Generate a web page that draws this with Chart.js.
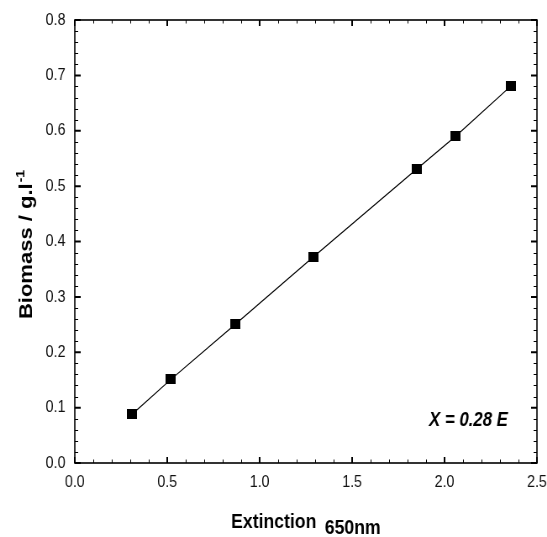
<!DOCTYPE html>
<html>
<head>
<meta charset="utf-8">
<script src="https://cdn.jsdelivr.net/npm/chart.js@4"></script>
<style>
  html, body { margin: 0; padding: 0; background: #fff; overflow: hidden; }
  /* the original figure is squeezed horizontally, so draw wide and condense */
  #wrap { width: 651px; height: 537px; transform: scaleX(0.8403); transform-origin: 0 0; }
</style>
</head>
<body>
<div id="wrap"><canvas id="myChart" width="651" height="537"></canvas></div>
<script>
// Calibration points: extinction at 650nm vs biomass (g/l)
const extinction = [0.31, 0.52, 0.87, 1.29, 1.85, 2.06, 2.36];
const biomass = [0.088, 0.151, 0.251, 0.372, 0.531, 0.590, 0.681];

const xTicks = [0.0, 0.5, 1.0, 1.5, 2.0, 2.5];
const yTicks = [0.0, 0.1, 0.2, 0.3, 0.4, 0.5, 0.6, 0.7, 0.8];
const fitLabel = 'X = 0.28 E';

// square marker, drawn wider so it comes out square after the condense
const marker = document.createElement('canvas');
marker.width = 12;
marker.height = 10;
const mctx = marker.getContext('2d');
mctx.fillStyle = '#000';
mctx.fillRect(0, 0, 12, 10);

// inward ticks on all four sides, the box, titles and the fit label
const decorations = {
    id: 'decorations',
    beforeDatasetsDraw(chart) {
        const { ctx, chartArea: a, scales: { x, y } } = chart;
        ctx.save();
        ctx.strokeStyle = '#000';

        // minor ticks
        ctx.lineWidth = 1;
        ctx.beginPath();
        for (let i = 1; i < 25; i++) {
            if (i % 5 === 0) continue;
            const px = Math.round(x.getPixelForValue(i / 10)) + 0.5;
            ctx.moveTo(px, a.bottom); ctx.lineTo(px, a.bottom - 3.5);
            ctx.moveTo(px, a.top); ctx.lineTo(px, a.top + 3.5);
        }
        for (let i = 1; i < 40; i++) {
            if (i % 5 === 0) continue;
            const py = Math.round(y.getPixelForValue(i / 50)) + 0.5;
            ctx.moveTo(a.left, py); ctx.lineTo(a.left + 4, py);
            ctx.moveTo(a.right, py); ctx.lineTo(a.right - 4, py);
        }
        ctx.stroke();

        // major ticks
        ctx.lineWidth = 2;
        ctx.beginPath();
        xTicks.forEach(v => {
            const px = x.getPixelForValue(v);
            ctx.moveTo(px, a.bottom); ctx.lineTo(px, a.bottom - 6);
            ctx.moveTo(px, a.top); ctx.lineTo(px, a.top + 6);
        });
        yTicks.forEach(v => {
            const py = y.getPixelForValue(v);
            ctx.moveTo(a.left, py); ctx.lineTo(a.left + 7, py);
            ctx.moveTo(a.right, py); ctx.lineTo(a.right - 7, py);
        });
        ctx.stroke();

        // frame
        ctx.lineWidth = 1.6;
        ctx.strokeRect(a.left, a.top, a.width, a.height);
        ctx.restore();
    },
    afterDraw(chart) {
        const { ctx, chartArea: a, scales: { x, y } } = chart;
        ctx.save();
        ctx.fillStyle = '#000';
        ctx.textBaseline = 'alphabetic';
        ctx.textAlign = 'left';

        // x title with subscript
        ctx.font = 'bold 21px "Liberation Sans", Arial, sans-serif';
        const w1 = ctx.measureText('Extinction').width;
        const w2 = ctx.measureText('650nm').width;
        const gap = 10;
        const x0 = (a.left + a.right) / 2 - (w1 + gap + w2) / 2;
        ctx.fillText('Extinction', x0, 527.5);
        ctx.fillText('650nm', x0 + w1 + gap, 534);

        // y title with superscript
        ctx.save();
        ctx.translate(37.5, 245);
        ctx.rotate(-Math.PI / 2);
        ctx.font = 'bold 22px "Liberation Sans", Arial, sans-serif';
        const t1 = 'Biomass / g.l';
        const tw1 = ctx.measureText(t1).width;
        ctx.font = 'bold 14px "Liberation Sans", Arial, sans-serif';
        const tw2 = ctx.measureText('-1').width;
        const s = -(tw1 + tw2) / 2;
        ctx.font = 'bold 22px "Liberation Sans", Arial, sans-serif';
        ctx.fillText(t1, s, 0);
        ctx.font = 'bold 14px "Liberation Sans", Arial, sans-serif';
        ctx.fillText('-1', s + tw1 + 1, -9);
        ctx.restore();

        // fit label
        ctx.font = 'italic bold 20px "Liberation Sans", Arial, sans-serif';
        ctx.textAlign = 'right';
        ctx.fillText(fitLabel, x.getPixelForValue(2.343), y.getPixelForValue(0.067));
        ctx.restore();
    }
};

const ctx = document.getElementById('myChart').getContext('2d');
new Chart(ctx, {
    type: 'scatter',
    data: {
        datasets: [{
            label: 'Biomass',
            data: extinction.map((e, i) => ({ x: e, y: biomass[i] })),
            showLine: true,
            borderColor: '#000',
            borderWidth: 1.2,
            backgroundColor: '#000',
            pointStyle: marker,
            pointRadius: 6,
            pointHoverRadius: 6
        }]
    },
    options: {
        responsive: false,
        animation: false,
        devicePixelRatio: 1,
        layout: { padding: { top: 20, right: 12, left: 0, bottom: 0 } },
        plugins: {
            legend: { display: false },
            tooltip: { enabled: false }
        },
        scales: {
            x: {
                type: 'linear',
                min: 0,
                max: 2.5,
                afterBuildTicks: scale => { scale.ticks = xTicks.map(v => ({ value: v })); },
                afterFit: scale => {
                    scale.height = 74;
                    scale.paddingLeft = 0;
                    scale.paddingRight = 0;
                },
                grid: { display: false, drawTicks: false },
                border: { display: false },
                ticks: {
                    padding: 9,
                    color: '#111',
                    font: { family: '"Liberation Sans", Arial, sans-serif', size: 17 },
                    callback: v => v.toFixed(1)
                }
            },
            y: {
                type: 'linear',
                min: 0,
                max: 0.8,
                afterBuildTicks: scale => { scale.ticks = yTicks.map(v => ({ value: v })); },
                afterFit: scale => {
                    scale.width = 89;
                    scale.paddingTop = 0;
                    scale.paddingBottom = 0;
                },
                grid: { display: false, drawTicks: false },
                border: { display: false },
                ticks: {
                    padding: 11,
                    color: '#111',
                    font: { family: '"Liberation Sans", Arial, sans-serif', size: 17 },
                    callback: v => v.toFixed(1)
                }
            }
        }
    },
    plugins: [decorations]
});
</script>
</body>
</html>
